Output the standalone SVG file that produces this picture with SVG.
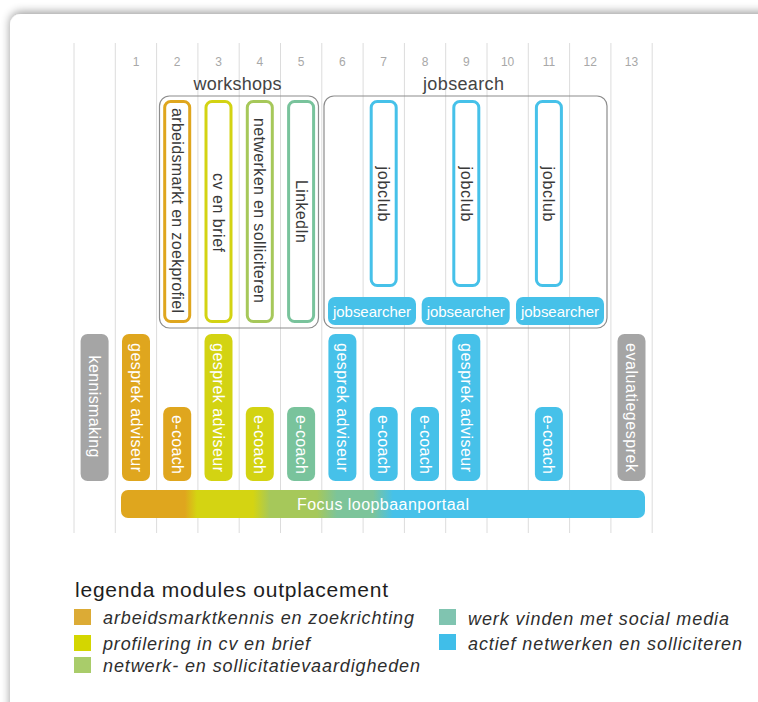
<svg xmlns="http://www.w3.org/2000/svg" width="758" height="702" viewBox="0 0 758 702">
<defs>
<filter id="sh" x="-5%" y="-5%" width="110%" height="110%">
<feGaussianBlur in="SourceAlpha" stdDeviation="5"/>
<feOffset dx="0" dy="-2" result="b"/>
<feComponentTransfer><feFuncA type="linear" slope="0.4"/></feComponentTransfer>
<feMerge><feMergeNode/><feMergeNode in="SourceGraphic"/></feMerge>
</filter>
<linearGradient id="focus" x1="121" y1="0" x2="645" y2="0" gradientUnits="userSpaceOnUse">
<stop offset="0" stop-color="#dfa61e"/>
<stop offset="0.122" stop-color="#dfa61e"/>
<stop offset="0.145" stop-color="#d4d412"/>
<stop offset="0.252" stop-color="#d4d412"/>
<stop offset="0.284" stop-color="#a6c85a"/>
<stop offset="0.374" stop-color="#a6c85a"/>
<stop offset="0.412" stop-color="#7cc49a"/>
<stop offset="0.481" stop-color="#7cc49a"/>
<stop offset="0.519" stop-color="#46c1e9"/>
<stop offset="1" stop-color="#46c1e9"/>
</linearGradient>
</defs>
<style>
text{font-family:"Liberation Sans",Arial,sans-serif}
.grid line{stroke:#dcdcdc;stroke-width:1}
.num{font-size:12px;fill:#a8a8a8;text-anchor:middle}
.head{font-size:18px;fill:#444;text-anchor:middle}
.frame{fill:none;stroke:#8c8c8c;stroke-width:1.2}
.box{fill:#fff;stroke-width:3}
.btxt{font-size:16px;fill:#3a3a3a;text-anchor:middle;dominant-baseline:central}
.wtxt{font-size:16px;fill:#fff;text-anchor:middle;dominant-baseline:central}
.js{font-size:15px}
.or{fill:#dfa61e}.ye{fill:#d3d312}.gr{fill:#a6c85a}.te{fill:#79c39c}.bl{fill:#46c1e9}.gy{fill:#a5a5a5}
.sor{stroke:#dfa61e}.sye{stroke:#d3d312}.sgr{stroke:#a6c85a}.ste{stroke:#79c39c}.sbl{stroke:#46c1e9}
.lt{font-size:21px;fill:#1e1e1e}
.li{font-size:18px;fill:#2e2e2e;font-style:italic}
</style>
<rect x="0" y="0" width="758" height="702" fill="#ffffff"/>
<rect x="10" y="14" width="780" height="720" rx="11" fill="#ffffff" filter="url(#sh)"/>

<g class="grid" id="grid">
<line x1="74" y1="43" x2="74" y2="533"/>
<line x1="115.3" y1="43" x2="115.3" y2="533"/>
<line x1="156.6" y1="43" x2="156.6" y2="533"/>
<line x1="197.9" y1="43" x2="197.9" y2="533"/>
<line x1="239.2" y1="43" x2="239.2" y2="533"/>
<line x1="280.5" y1="43" x2="280.5" y2="533"/>
<line x1="321.8" y1="43" x2="321.8" y2="533"/>
<line x1="363.1" y1="43" x2="363.1" y2="533"/>
<line x1="404.4" y1="43" x2="404.4" y2="533"/>
<line x1="445.7" y1="43" x2="445.7" y2="533"/>
<line x1="487" y1="43" x2="487" y2="533"/>
<line x1="528.3" y1="43" x2="528.3" y2="533"/>
<line x1="569.6" y1="43" x2="569.6" y2="533"/>
<line x1="610.9" y1="43" x2="610.9" y2="533"/>
<line x1="652.2" y1="43" x2="652.2" y2="533"/>
</g>

<g id="numbers">
<text class="num" x="136" y="66">1</text>
<text class="num" x="177.2" y="66">2</text>
<text class="num" x="218.5" y="66">3</text>
<text class="num" x="259.8" y="66">4</text>
<text class="num" x="301.1" y="66">5</text>
<text class="num" x="342.4" y="66">6</text>
<text class="num" x="383.7" y="66">7</text>
<text class="num" x="425" y="66">8</text>
<text class="num" x="466.3" y="66">9</text>
<text class="num" x="507.6" y="66">10</text>
<text class="num" x="548.9" y="66">11</text>
<text class="num" x="590.2" y="66">12</text>
<text class="num" x="631.5" y="66">13</text>
</g>

<g id="workshops">
<text class="head" x="237.5" y="89.5" textLength="88" lengthAdjust="spacing">workshops</text>
<rect class="frame" x="159.5" y="96" width="159" height="232" rx="10"/>
</g>
<g id="jobsearch">
<text class="head" x="463.5" y="89.5" textLength="81" lengthAdjust="spacing">jobsearch</text>
<rect class="frame" x="324" y="96" width="283" height="232" rx="10"/>
</g>

<g id="ws-arbeidsmarkt">
<rect class="box sor" x="164.7" y="101.5" width="25" height="220" rx="6"/>
<text class="btxt" transform="translate(177.2,210.5) rotate(90)" textLength="205" lengthAdjust="spacing">arbeidsmarkt en zoekprofiel</text>
</g>
<g id="ws-cv">
<rect class="box sye" x="206" y="101.5" width="25" height="220" rx="6"/>
<text class="btxt" transform="translate(218.5,212.5) rotate(90)" textLength="79" lengthAdjust="spacing">cv en brief</text>
</g>
<g id="ws-netwerken">
<rect class="box sgr" x="247.3" y="101.5" width="25" height="220" rx="6"/>
<text class="btxt" transform="translate(259.8,210.5) rotate(90)" textLength="185" lengthAdjust="spacing">netwerken en solliciteren</text>
</g>
<g id="ws-linkedin">
<rect class="box ste" x="288.6" y="101.5" width="25" height="220" rx="6"/>
<text class="btxt" transform="translate(301.1,211.5) rotate(90)" textLength="63" lengthAdjust="spacing">LinkedIn</text>
</g>

<g id="jobclub-1">
<rect class="box sbl" x="371.2" y="101.5" width="25" height="184" rx="6"/>
<text class="btxt" transform="translate(383.7,194) rotate(90)" textLength="55" lengthAdjust="spacing">jobclub</text>
</g>
<g id="jobclub-2">
<rect class="box sbl" x="453.8" y="101.5" width="25" height="184" rx="6"/>
<text class="btxt" transform="translate(466.3,194) rotate(90)" textLength="55" lengthAdjust="spacing">jobclub</text>
</g>
<g id="jobclub-3">
<rect class="box sbl" x="536.4" y="101.5" width="25" height="184" rx="6"/>
<text class="btxt" transform="translate(548.9,194) rotate(90)" textLength="55" lengthAdjust="spacing">jobclub</text>
</g>

<g id="jobsearcher-1">
<rect class="bl" x="328" y="297" width="88" height="28" rx="7"/>
<text class="wtxt js" x="372" y="311" textLength="78" lengthAdjust="spacing">jobsearcher</text>
</g>
<g id="jobsearcher-2">
<rect class="bl" x="421.7" y="297" width="88" height="28" rx="7"/>
<text class="wtxt js" x="465.7" y="311" textLength="78" lengthAdjust="spacing">jobsearcher</text>
</g>
<g id="jobsearcher-3">
<rect class="bl" x="516" y="297" width="88" height="28" rx="7"/>
<text class="wtxt js" x="560" y="311" textLength="78" lengthAdjust="spacing">jobsearcher</text>
</g>

<g id="kennismaking">
<rect class="gy" x="80.6" y="334" width="28" height="147" rx="7"/>
<text class="wtxt" transform="translate(94.6,406.5) rotate(90)" textLength="102" lengthAdjust="spacing">kennismaking</text>
</g>
<g id="gesprek-1">
<rect class="or" x="122" y="334" width="28" height="147" rx="7"/>
<text class="wtxt" transform="translate(136,407.5) rotate(90)" textLength="129" lengthAdjust="spacing">gesprek adviseur</text>
</g>
<g id="ecoach-2">
<rect class="or" x="163.2" y="407" width="28" height="74" rx="7"/>
<text class="wtxt" transform="translate(177.2,444.5) rotate(90)" textLength="59" lengthAdjust="spacing">e-coach</text>
</g>
<g id="gesprek-3">
<rect class="ye" x="204.5" y="334" width="28" height="147" rx="7"/>
<text class="wtxt" transform="translate(218.5,407.5) rotate(90)" textLength="129" lengthAdjust="spacing">gesprek adviseur</text>
</g>
<g id="ecoach-4">
<rect class="ye" x="245.8" y="407" width="28" height="74" rx="7"/>
<text class="wtxt" transform="translate(259.8,444.5) rotate(90)" textLength="59" lengthAdjust="spacing">e-coach</text>
</g>
<g id="ecoach-5">
<rect class="te" x="287.1" y="407" width="28" height="74" rx="7"/>
<text class="wtxt" transform="translate(301.1,444.5) rotate(90)" textLength="59" lengthAdjust="spacing">e-coach</text>
</g>
<g id="gesprek-6">
<rect class="bl" x="328.4" y="334" width="28" height="147" rx="7"/>
<text class="wtxt" transform="translate(342.4,407.5) rotate(90)" textLength="129" lengthAdjust="spacing">gesprek adviseur</text>
</g>
<g id="ecoach-7">
<rect class="bl" x="369.7" y="407" width="28" height="74" rx="7"/>
<text class="wtxt" transform="translate(383.7,444.5) rotate(90)" textLength="59" lengthAdjust="spacing">e-coach</text>
</g>
<g id="ecoach-8">
<rect class="bl" x="411" y="407" width="28" height="74" rx="7"/>
<text class="wtxt" transform="translate(425,444.5) rotate(90)" textLength="59" lengthAdjust="spacing">e-coach</text>
</g>
<g id="gesprek-9">
<rect class="bl" x="452.3" y="334" width="28" height="147" rx="7"/>
<text class="wtxt" transform="translate(466.3,407.5) rotate(90)" textLength="129" lengthAdjust="spacing">gesprek adviseur</text>
</g>
<g id="ecoach-11">
<rect class="bl" x="534.9" y="407" width="28" height="74" rx="7"/>
<text class="wtxt" transform="translate(548.9,444.5) rotate(90)" textLength="59" lengthAdjust="spacing">e-coach</text>
</g>
<g id="evaluatiegesprek">
<rect class="gy" x="617.5" y="334" width="28" height="147" rx="7"/>
<text class="wtxt" transform="translate(631.5,407.5) rotate(90)" textLength="129" lengthAdjust="spacing">evaluatiegesprek</text>
</g>

<g id="focus-loopbaanportaal">
<rect x="121" y="490" width="524" height="28" rx="7" fill="url(#focus)"/>
<text class="wtxt" x="383" y="504" textLength="172" lengthAdjust="spacing">Focus loopbaanportaal</text>
</g>

<g id="legend">
<text class="lt" x="75" y="597" textLength="313" lengthAdjust="spacing">legenda modules outplacement</text>
<rect x="74" y="609" width="17" height="16" fill="#dcab35"/>
<text class="li" x="103" y="624" textLength="311" lengthAdjust="spacing">arbeidsmarktkennis en zoekrichting</text>
<rect x="74" y="635" width="17" height="16" fill="#d4d600"/>
<text class="li" x="103" y="650" textLength="207" lengthAdjust="spacing">profilering in cv en brief</text>
<rect x="74" y="657" width="17" height="16" fill="#a9cc6a"/>
<text class="li" x="103" y="672" textLength="317" lengthAdjust="spacing">netwerk- en sollicitatievaardigheden</text>
<rect x="439" y="609" width="17" height="16" fill="#80c4b0"/>
<text class="li" x="468" y="625" textLength="261" lengthAdjust="spacing">werk vinden met social media</text>
<rect x="439" y="634" width="17" height="16" fill="#40bee9"/>
<text class="li" x="468" y="650" textLength="274" lengthAdjust="spacing">actief netwerken en solliciteren</text>
</g>
</svg>
